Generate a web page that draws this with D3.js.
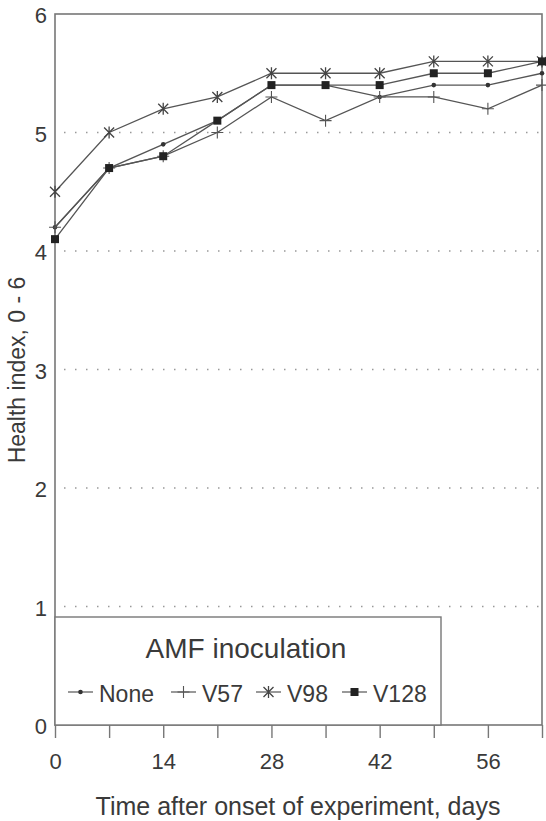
<!DOCTYPE html>
<html>
<head>
<meta charset="utf-8">
<script src="https://cdn.jsdelivr.net/npm/d3@7"></script>
<style>
	html, body { margin: 0; padding: 0; background: #fff; }
	svg { display: block; font-family: "Liberation Sans", Arial, Helvetica, sans-serif; }
</style>
</head>
<body>
<div id="chart"></div>
<script>
// 数据（天数 / 健康指数）
const days = [0, 7, 14, 21, 28, 35, 42, 49, 56, 63];
const none = [4.2, 4.7, 4.9, 5.1, 5.4, 5.4, 5.3, 5.4, 5.4, 5.5];
const v57 = [4.2, 4.7, 4.8, 5.0, 5.3, 5.1, 5.3, 5.3, 5.2, 5.4];
const v98 = [4.5, 5.0, 5.2, 5.3, 5.5, 5.5, 5.5, 5.6, 5.6, 5.6];
const v128 = [4.1, 4.7, 4.8, 5.1, 5.4, 5.4, 5.4, 5.5, 5.5, 5.6];
const seriesNames = ['None', 'V57', 'V98', 'V128'];
const xLabels = [0, 14, 28, 42, 56];
const yTicks = [0, 1, 2, 3, 4, 5, 6];

const width = 546;
const height = 821;
const margin = ({ top: 14, right: 4, bottom: 96, left: 55 });
const lineColor = '#555';
const textColor = '#3a3a3a';

const series = [
	{ name: seriesNames[0], values: none, marker: 'dot' },
	{ name: seriesNames[1], values: v57, marker: 'plus' },
	{ name: seriesNames[2], values: v98, marker: 'star' },
	{ name: seriesNames[3], values: v128, marker: 'square' }
];

const x = d3.scaleLinear()
	.domain([0, 63])
	.range([margin.left, width - margin.right]);

const y = d3.scaleLinear()
	.domain([0, 6])
	.range([height - margin.bottom, margin.top]);

// 画标记
function drawMarker(g, type, cx, cy) {
	if (type === 'dot') {
		g.append('circle').attr('cx', cx).attr('cy', cy).attr('r', 2.3).attr('fill', '#333');
	} else if (type === 'plus') {
		g.append('path')
			.attr('d', `M${cx - 6},${cy}H${cx + 6}M${cx},${cy - 6}V${cy + 6}`)
			.attr('stroke', lineColor).attr('stroke-width', 1.1);
	} else if (type === 'star') {
		g.append('path')
			.attr('d', `M${cx - 5},${cy - 5}L${cx + 5},${cy + 5}M${cx - 5},${cy + 5}L${cx + 5},${cy - 5}M${cx},${cy - 6}V${cy + 6}`)
			.attr('stroke', '#444').attr('stroke-width', 1.3);
	} else {
		g.append('rect').attr('x', cx - 4).attr('y', cy - 4).attr('width', 8).attr('height', 8).attr('fill', '#222');
	}
}

const svg = d3.select('#chart')
	.append('svg')
	.attr('width', width)
	.attr('height', height)
	.attr('viewBox', [0, 0, width, height]);

// 网格线（点线）
svg.append('g')
	.selectAll('line')
	.data(yTicks.filter(d => d > 0 && d < 6))
	.join('line')
	.attr('x1', margin.left + 9)
	.attr('x2', width - margin.right - 1)
	.attr('y1', d => y(d))
	.attr('y2', d => y(d))
	.attr('stroke', '#999')
	.attr('stroke-width', 1.3)
	.attr('stroke-dasharray', '1.5,9.5');

// x 轴
svg.append('g')
	.attr('transform', `translate(0,${y(0)})`)
	.call(d3.axisBottom(x)
		.tickValues(days)
		.tickSize(13)
		.tickPadding(15)
		.tickFormat(d => xLabels.includes(d) ? d : ''))
	.call(g => g.select('.domain').remove())
	.call(g => g.selectAll('.tick line').attr('stroke', '#777').attr('stroke-width', 1.4))
	.call(g => g.selectAll('.tick text')
		.attr('fill', textColor)
		.attr('font-size', 22)
		.attr('font-family', null));

// y 轴
svg.append('g')
	.attr('transform', `translate(${margin.left},0)`)
	.call(d3.axisLeft(y)
		.tickValues(yTicks)
		.tickSize(0)
		.tickPadding(8)
		.tickFormat(d3.format('d')))
	.call(g => g.select('.domain').remove())
	.call(g => g.selectAll('.tick text')
		.attr('fill', textColor)
		.attr('font-size', 22)
		.attr('dy', '0.4em')
		.attr('font-family', null));

// 外框
svg.append('rect')
	.attr('x', x(0))
	.attr('y', y(6))
	.attr('width', x(63) - x(0))
	.attr('height', y(0) - y(6))
	.attr('fill', 'none')
	.attr('stroke', '#777')
	.attr('stroke-width', 1.6);

// 折线 + 标记
const line = d3.line()
	.x((d, i) => x(days[i]))
	.y(d => y(d));

series.forEach(s => {
	const g = svg.append('g');
	g.append('path')
		.datum(s.values)
		.attr('d', line)
		.attr('fill', 'none')
		.attr('stroke', lineColor)
		.attr('stroke-width', 1.3);
	s.values.forEach((v, i) => drawMarker(g, s.marker, x(days[i]), y(v)));
});

// 图例
const legend = svg.append('g');
legend.append('rect')
	.attr('x', x(0))
	.attr('y', 617)
	.attr('width', 386)
	.attr('height', y(0) - 617)
	.attr('fill', '#fff')
	.attr('stroke', '#777')
	.attr('stroke-width', 1.4);

legend.append('text')
	.attr('x', 246)
	.attr('y', 658)
	.attr('text-anchor', 'middle')
	.attr('font-size', 28)
	.attr('fill', textColor)
	.text('AMF inoculation');

const legendX = [68, 171, 256, 342];
series.forEach((s, i) => {
	const lx = legendX[i];
	legend.append('line')
		.attr('x1', lx).attr('x2', lx + 25)
		.attr('y1', 692).attr('y2', 692)
		.attr('stroke', lineColor).attr('stroke-width', 1.2);
	drawMarker(legend, s.marker, lx + 12.5, 692);
	legend.append('text')
		.attr('x', lx + 31)
		.attr('y', 702)
		.attr('font-size', 23)
		.attr('fill', textColor)
		.text(s.name);
});

// 轴标题
svg.append('text')
	.attr('x', 298)
	.attr('y', 815)
	.attr('text-anchor', 'middle')
	.attr('font-size', 25)
	.attr('fill', textColor)
	.text('Time after onset of experiment, days');

svg.append('text')
	.attr('transform', `translate(25,370) rotate(-90)`)
	.attr('text-anchor', 'middle')
	.attr('font-size', 23)
	.attr('fill', textColor)
	.text('Health index, 0 - 6');
</script>
</body>
</html>
